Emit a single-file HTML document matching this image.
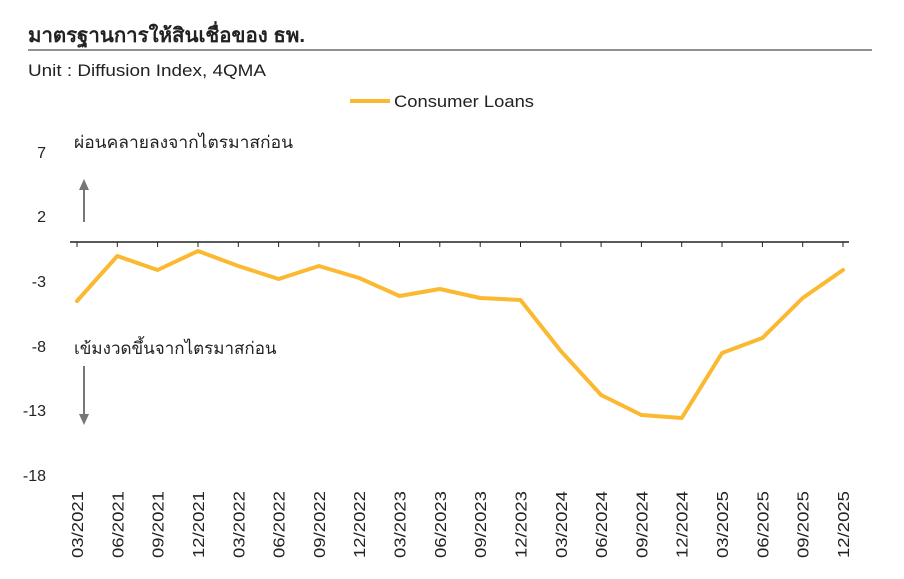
<!DOCTYPE html>
<html><head><meta charset="utf-8"><style>
body{margin:0;background:#fff;width:904px;height:574px;overflow:hidden}
svg text{font-family:"Liberation Sans","Noto Sans CJK SC",sans-serif;fill:#222}
</style></head><body>
<svg width="904" height="574" xmlns="http://www.w3.org/2000/svg">
<text x="28" y="42" font-size="20" font-weight="bold" textLength="277" lengthAdjust="spacingAndGlyphs">มาตรฐานการให้สินเชื่อของ ธพ.</text>
<line x1="28" y1="50" x2="872" y2="50" stroke="#222" stroke-width="1"/>
<text x="28" y="76" font-size="17" fill="#444" textLength="238" lengthAdjust="spacingAndGlyphs">Unit : Diffusion Index, 4QMA</text>
<line x1="350" y1="101" x2="390" y2="101" stroke="#FBB931" stroke-width="4"/>
<text x="394" y="107" font-size="17" textLength="140" lengthAdjust="spacingAndGlyphs">Consumer Loans</text>
<g font-size="16" text-anchor="end">
<text x="46" y="158">7</text><text x="46" y="222">2</text><text x="46" y="287">-3</text>
<text x="46" y="352">-8</text><text x="46" y="416">-13</text><text x="46" y="481">-18</text>
</g>
<text x="74" y="148" font-size="17" textLength="219" lengthAdjust="spacingAndGlyphs">ผ่อนคลายลงจากไตรมาสก่อน</text>
<text x="74" y="354" font-size="17">เข้มงวดขึ้นจากไตรมาสก่อน</text>
<g stroke="#777" stroke-width="2" fill="#777">
<line x1="84" y1="222" x2="84" y2="188"/><polygon points="79,190 89,190 84,179" stroke="none"/>
<line x1="84" y1="366" x2="84" y2="416"/><polygon points="79,414 89,414 84,425" stroke="none"/>
</g>
<line x1="70" y1="242" x2="849" y2="242" stroke="#222" stroke-width="1.5"/>
<g stroke="#222" stroke-width="1">
<path d="M77 242v5M117.3 242v5M157.6 242v5M198 242v5M238.3 242v5M278.6 242v5M318.9 242v5M359.2 242v5M399.5 242v5M439.8 242v5M480.2 242v5M520.5 242v5M560.8 242v5M601.1 242v5M641.4 242v5M681.7 242v5M722 242v5M762.4 242v5M802.7 242v5M843 242v5"/>
</g>
<polyline fill="none" stroke="#FBB931" stroke-width="4" stroke-linejoin="round" stroke-linecap="round"
points="77,301 117.3,256 157.6,270 198,251 238.3,266 278.6,279 318.9,266 359.2,278 399.5,296 439.8,289 480.2,298 520.5,300 560.8,351 601.1,395 641.4,415 681.7,418 722,353 762.4,338 802.7,298 843,270"/>
<g font-size="16">
<text transform="translate(83,558) rotate(-90)" textLength="67" lengthAdjust="spacingAndGlyphs">03/2021</text>
<text transform="translate(123.3,558) rotate(-90)" textLength="67" lengthAdjust="spacingAndGlyphs">06/2021</text>
<text transform="translate(163.6,558) rotate(-90)" textLength="67" lengthAdjust="spacingAndGlyphs">09/2021</text>
<text transform="translate(204,558) rotate(-90)" textLength="67" lengthAdjust="spacingAndGlyphs">12/2021</text>
<text transform="translate(244.3,558) rotate(-90)" textLength="67" lengthAdjust="spacingAndGlyphs">03/2022</text>
<text transform="translate(284.6,558) rotate(-90)" textLength="67" lengthAdjust="spacingAndGlyphs">06/2022</text>
<text transform="translate(324.9,558) rotate(-90)" textLength="67" lengthAdjust="spacingAndGlyphs">09/2022</text>
<text transform="translate(365.2,558) rotate(-90)" textLength="67" lengthAdjust="spacingAndGlyphs">12/2022</text>
<text transform="translate(405.5,558) rotate(-90)" textLength="67" lengthAdjust="spacingAndGlyphs">03/2023</text>
<text transform="translate(445.8,558) rotate(-90)" textLength="67" lengthAdjust="spacingAndGlyphs">06/2023</text>
<text transform="translate(486.2,558) rotate(-90)" textLength="67" lengthAdjust="spacingAndGlyphs">09/2023</text>
<text transform="translate(526.5,558) rotate(-90)" textLength="67" lengthAdjust="spacingAndGlyphs">12/2023</text>
<text transform="translate(566.8,558) rotate(-90)" textLength="67" lengthAdjust="spacingAndGlyphs">03/2024</text>
<text transform="translate(607.1,558) rotate(-90)" textLength="67" lengthAdjust="spacingAndGlyphs">06/2024</text>
<text transform="translate(647.4,558) rotate(-90)" textLength="67" lengthAdjust="spacingAndGlyphs">09/2024</text>
<text transform="translate(687.7,558) rotate(-90)" textLength="67" lengthAdjust="spacingAndGlyphs">12/2024</text>
<text transform="translate(728,558) rotate(-90)" textLength="67" lengthAdjust="spacingAndGlyphs">03/2025</text>
<text transform="translate(768.4,558) rotate(-90)" textLength="67" lengthAdjust="spacingAndGlyphs">06/2025</text>
<text transform="translate(808.7,558) rotate(-90)" textLength="67" lengthAdjust="spacingAndGlyphs">09/2025</text>
<text transform="translate(849,558) rotate(-90)" textLength="67" lengthAdjust="spacingAndGlyphs">12/2025</text>
</g>
</svg>
</body></html>
